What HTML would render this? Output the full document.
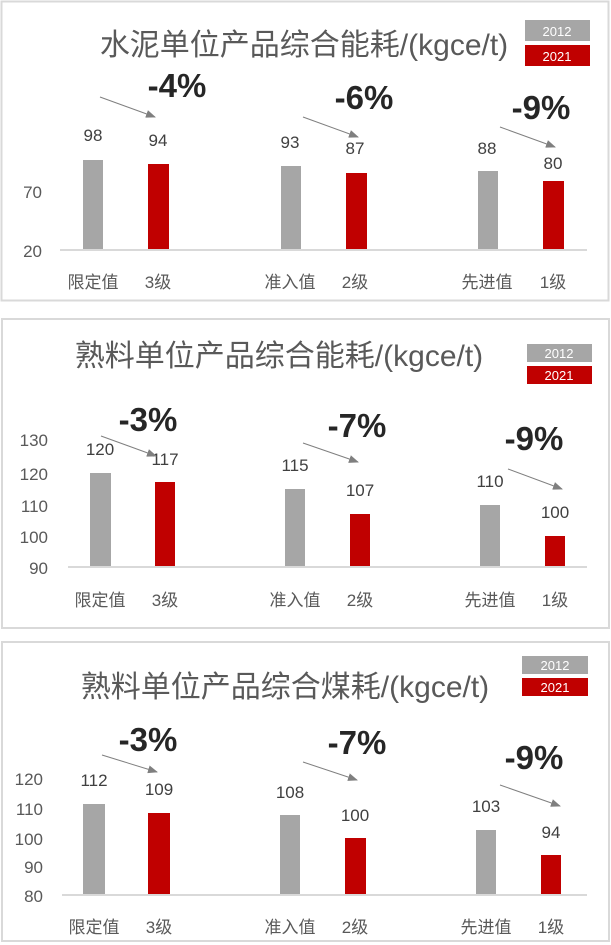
<!DOCTYPE html>
<html><head><meta charset="utf-8"><style>
body{margin:0;background:#fff;}
svg{display:block;font-family:"Liberation Sans","Noto Sans CJK SC",sans-serif;}
.t{font-size:30px;fill:#595959;text-anchor:middle;}
.v{font-size:17px;fill:#404040;text-anchor:middle;}
.a{font-size:17px;fill:#595959;text-anchor:end;}
.c{font-size:17px;fill:#595959;text-anchor:middle;}
.p{font-size:33px;font-weight:bold;fill:#262626;text-anchor:middle;}
.lg{font-size:13px;fill:#fff;text-anchor:middle;}
</style></head><body>
<svg width="611" height="945" viewBox="0 0 611 945">
<defs><marker id="ar" markerWidth="10" markerHeight="8" refX="9" refY="4" orient="auto" markerUnits="userSpaceOnUse"><path d="M0,0L10,4L0,8z" fill="#7f7f7f"/></marker></defs>
<!-- Panel 1 -->
<rect x="1.5" y="1.5" width="607" height="299" fill="#fff" stroke="#d9d9d9" stroke-width="2"/>
<text class="t" x="304" y="55">水泥单位产品综合能耗/(kgce/t)</text>
<rect x="525" y="20" width="65" height="21" fill="#a6a6a6"/><text class="lg" x="557" y="36">2012</text>
<rect x="525" y="45" width="65" height="21" fill="#c00000"/><text class="lg" x="557" y="61">2021</text>
<line x1="60" y1="250" x2="587" y2="250" stroke="#d9d9d9" stroke-width="2"/>
<text class="a" x="42" y="198">70</text><text class="a" x="42" y="257">20</text>
<rect x="83" y="160" width="20" height="89" fill="#a6a6a6"/>
<rect x="148" y="164" width="21" height="85" fill="#c00000"/>
<rect x="281" y="166" width="20" height="83" fill="#a6a6a6"/>
<rect x="346" y="173" width="21" height="76" fill="#c00000"/>
<rect x="478" y="171" width="20" height="78" fill="#a6a6a6"/>
<rect x="543" y="181" width="21" height="68" fill="#c00000"/>
<text class="v" x="93" y="141">98</text><text class="v" x="158" y="146">94</text>
<text class="v" x="290" y="148">93</text><text class="v" x="355" y="154">87</text>
<text class="v" x="487" y="154">88</text><text class="v" x="553" y="169">80</text>
<text class="c" x="93" y="288">限定值</text><text class="c" x="158" y="288">3级</text>
<text class="c" x="290" y="288">准入值</text><text class="c" x="355" y="288">2级</text>
<text class="c" x="487" y="288">先进值</text><text class="c" x="553" y="288">1级</text>
<text class="p" x="177" y="97">-4%</text><text class="p" x="364" y="109">-6%</text><text class="p" x="541" y="119">-9%</text>
<line x1="100" y1="97" x2="155" y2="117" stroke="#7f7f7f" marker-end="url(#ar)"/>
<line x1="303" y1="117" x2="358" y2="137" stroke="#7f7f7f" marker-end="url(#ar)"/>
<line x1="500" y1="127" x2="555" y2="147" stroke="#7f7f7f" marker-end="url(#ar)"/>
<!-- Panel 2 -->
<rect x="2" y="319" width="607" height="309" fill="#fff" stroke="#d9d9d9" stroke-width="2"/>
<text class="t" x="279" y="366">熟料单位产品综合能耗/(kgce/t)</text>
<rect x="527" y="344" width="65" height="18" fill="#a6a6a6"/><text class="lg" x="559" y="358">2012</text>
<rect x="527" y="366" width="65" height="18" fill="#c00000"/><text class="lg" x="559" y="380">2021</text>
<line x1="68" y1="567" x2="587" y2="567" stroke="#d9d9d9" stroke-width="2"/>
<text class="a" x="48" y="446">130</text><text class="a" x="48" y="480">120</text><text class="a" x="48" y="512">110</text><text class="a" x="48" y="543">100</text><text class="a" x="48" y="574">90</text>
<rect x="90" y="473" width="21" height="93" fill="#a6a6a6"/>
<rect x="155" y="482" width="20" height="84" fill="#c00000"/>
<rect x="285" y="489" width="20" height="77" fill="#a6a6a6"/>
<rect x="350" y="514" width="20" height="52" fill="#c00000"/>
<rect x="480" y="505" width="20" height="61" fill="#a6a6a6"/>
<rect x="545" y="536" width="20" height="30" fill="#c00000"/>
<text class="v" x="100" y="455">120</text><text class="v" x="165" y="465">117</text>
<text class="v" x="295" y="471">115</text><text class="v" x="360" y="496">107</text>
<text class="v" x="490" y="487">110</text><text class="v" x="555" y="518">100</text>
<text class="c" x="100" y="606">限定值</text><text class="c" x="165" y="606">3级</text>
<text class="c" x="295" y="606">准入值</text><text class="c" x="360" y="606">2级</text>
<text class="c" x="490" y="606">先进值</text><text class="c" x="555" y="606">1级</text>
<text class="p" x="148" y="431">-3%</text><text class="p" x="357" y="437">-7%</text><text class="p" x="534" y="450">-9%</text>
<line x1="101" y1="436" x2="156" y2="456" stroke="#7f7f7f" marker-end="url(#ar)"/>
<line x1="303" y1="443" x2="358" y2="462" stroke="#7f7f7f" marker-end="url(#ar)"/>
<line x1="508" y1="469" x2="562" y2="489" stroke="#7f7f7f" marker-end="url(#ar)"/>
<!-- Panel 3 -->
<rect x="2" y="642" width="607" height="299" fill="#fff" stroke="#d9d9d9" stroke-width="2"/>
<text class="t" x="285" y="697">熟料单位产品综合煤耗/(kgce/t)</text>
<rect x="522" y="656" width="66" height="18" fill="#a6a6a6"/><text class="lg" x="555" y="670">2012</text>
<rect x="522" y="678" width="66" height="18" fill="#c00000"/><text class="lg" x="555" y="692">2021</text>
<line x1="62" y1="895" x2="587" y2="895" stroke="#d9d9d9" stroke-width="2"/>
<text class="a" x="43" y="785">120</text><text class="a" x="43" y="815">110</text><text class="a" x="43" y="845">100</text><text class="a" x="43" y="873">90</text><text class="a" x="43" y="902">80</text>
<rect x="83" y="804" width="22" height="90" fill="#a6a6a6"/>
<rect x="148" y="813" width="22" height="81" fill="#c00000"/>
<rect x="280" y="815" width="20" height="79" fill="#a6a6a6"/>
<rect x="345" y="838" width="21" height="56" fill="#c00000"/>
<rect x="476" y="830" width="20" height="64" fill="#a6a6a6"/>
<rect x="541" y="855" width="20" height="39" fill="#c00000"/>
<text class="v" x="94" y="786">112</text><text class="v" x="159" y="795">109</text>
<text class="v" x="290" y="798">108</text><text class="v" x="355" y="821">100</text>
<text class="v" x="486" y="812">103</text><text class="v" x="551" y="838">94</text>
<text class="c" x="94" y="933">限定值</text><text class="c" x="159" y="933">3级</text>
<text class="c" x="290" y="933">准入值</text><text class="c" x="355" y="933">2级</text>
<text class="c" x="486" y="933">先进值</text><text class="c" x="551" y="933">1级</text>
<text class="p" x="148" y="751">-3%</text><text class="p" x="357" y="754">-7%</text><text class="p" x="534" y="769">-9%</text>
<line x1="102" y1="755" x2="157" y2="772" stroke="#7f7f7f" marker-end="url(#ar)"/>
<line x1="303" y1="762" x2="357" y2="780" stroke="#7f7f7f" marker-end="url(#ar)"/>
<line x1="500" y1="785" x2="560" y2="806" stroke="#7f7f7f" marker-end="url(#ar)"/>
</svg>
</body></html>
